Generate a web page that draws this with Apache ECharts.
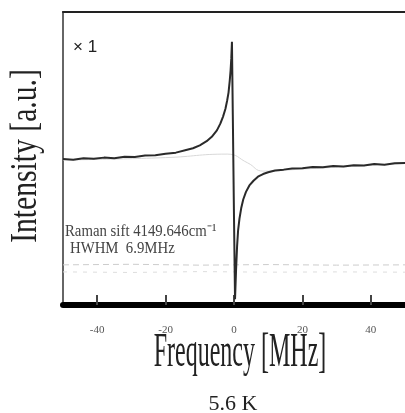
<!DOCTYPE html>
<html>
<head>
<meta charset="utf-8">
<title>5.6 K</title>
<script src="https://cdn.jsdelivr.net/npm/echarts@6/dist/echarts.min.js"></script>
<style>
  html, body { margin: 0; padding: 0; background: #fff; }
  #main { width: 405px; height: 413px; }
</style>
</head>
<body>
<div id="main"></div>
<script>
var freq = [-50,-47,-44,-41,-38,-35,-32,-29,-26,-23,-20,-17,-14,-12,-10,-8,-6.5,-5,-4,-3.2,-2.5,-2,-1.6,-1.25,-1,-0.8,-0.6,-0.35,0,0.3,0.6,0.9,1.2,1.6,2.1,2.7,3.5,4.5,5.7,7,8.5,10,12,14.5,17,20,23,26,29,32,35,38,41,44,47,50];
var intensity = [49.8,49.6,50.1,49.9,50.3,50.1,50.6,50.5,51.0,51.1,51.6,52.0,52.9,53.5,54.5,55.9,57.4,59.6,61.9,64.3,67.0,69.8,72.5,76.5,80,84,89.8,65,30,2,11.9,20,25.5,29.5,33,36,38.6,40.8,42.4,43.8,44.7,45.3,45.9,46.2,46.6,46.7,47.1,47.0,47.4,47.3,47.7,47.6,48.1,47.9,48.4,48.5];

// faint fit curve
var fitFreq = [-50,-20,-2,4,8.5,20,50];
var fitVal = [49.5,50.3,51.5,48.5,45.7,46.4,48.3];

// residual traces
var resFreq = [-50,-30,-10,10,30,50];
var res1 = [13.7,13.9,13.6,13.8,13.6,13.7];
var res2 = [11.3,11.1,11.4,11.2,11.3,11.2];

var xTicks = [-40, -20, 0, 20, 40];

function pairs(xs, ys) {
    var out = [];
    for (var i = 0; i < xs.length; i++) out.push([xs[i], ys[i]]);
    return out;
}

var myChart = echarts.init(document.getElementById('main'));

var option = {
    animation: false,
    backgroundColor: '#fff',
    grid: { left: 63, right: -2, top: 12, bottom: 108 },
    xAxis: [
        {
            type: 'value',
            min: -50,
            max: 50,
            axisLine: { show: true, onZero: false, lineStyle: { color: '#000', width: 6 } },
            axisTick: {
                show: true, inside: true, length: 10,
                customValues: xTicks,
                lineStyle: { color: '#444', width: 2 }
            },
            axisLabel: {
                margin: 20,
                customValues: xTicks,
                fontFamily: 'Liberation Serif',
                fontSize: 11,
                color: '#555'
            },
            splitLine: { show: false }
        },
        {
            type: 'value',
            position: 'top',
            min: -50,
            max: 50,
            axisLine: { show: true, onZero: false, lineStyle: { color: '#222', width: 2 } },
            axisTick: { show: false },
            axisLabel: { show: false },
            splitLine: { show: false }
        }
    ],
    yAxis: {
        type: 'value',
        min: 0,
        max: 100,
        axisLine: { show: true, onZero: false, lineStyle: { color: '#666', width: 2 } },
        axisTick: { show: false },
        axisLabel: { show: false },
        splitLine: { show: false }
    },
    graphic: [
        {
            type: 'text', x: 26, y: 156, rotation: Math.PI / 2, scaleX: 0.78,
            style: { text: 'Intensity [a.u.]', fontFamily: 'Liberation Serif', fontSize: 38, fill: '#222', align: 'center', verticalAlign: 'middle' }
        },
        {
            type: 'text', x: 240, y: 353, scaleX: 0.5,
            style: { text: 'Frequency [MHz]', fontFamily: 'Liberation Serif', fontSize: 48, fill: '#222', align: 'center', verticalAlign: 'middle' }
        },
        {
            type: 'text', x: 233, y: 404,
            style: { text: '5.6 K', fontFamily: 'Liberation Serif', fontSize: 22, fill: '#222', align: 'center', verticalAlign: 'middle' }
        },
        {
            type: 'text', x: 73, y: 47,
            style: { text: '× 1', fontFamily: 'Liberation Sans', fontSize: 17, fill: '#222', align: 'left', verticalAlign: 'middle' }
        },
        {
            type: 'text', x: 65, y: 232, scaleX: 0.87,
            style: { text: 'Raman sift 4149.646cm⁻¹', fontFamily: 'Liberation Serif', fontSize: 17, fill: '#444', align: 'left', verticalAlign: 'middle' }
        },
        {
            type: 'text', x: 70, y: 249, scaleX: 0.87,
            style: { text: 'HWHM  6.9MHz', fontFamily: 'Liberation Serif', fontSize: 17, fill: '#444', align: 'left', verticalAlign: 'middle' }
        }
    ],
    series: [
        {
            name: 'residual1', type: 'line', symbol: 'none',
            lineStyle: { color: '#ccc', width: 1, type: [6, 4] },
            data: pairs(resFreq, res1)
        },
        {
            name: 'residual2', type: 'line', symbol: 'none',
            lineStyle: { color: '#ddd', width: 1, type: [4, 6] },
            data: pairs(resFreq, res2)
        },
        {
            name: 'fit', type: 'line', symbol: 'none', smooth: true,
            lineStyle: { color: '#d8d8d8', width: 1 },
            data: pairs(fitFreq, fitVal)
        },
        {
            name: 'signal', type: 'line', symbol: 'none',
            lineStyle: { color: '#2a2a2a', width: 2 },
            data: pairs(freq, intensity)
        }
    ]
};

myChart.setOption(option);
</script>
</body>
</html>
